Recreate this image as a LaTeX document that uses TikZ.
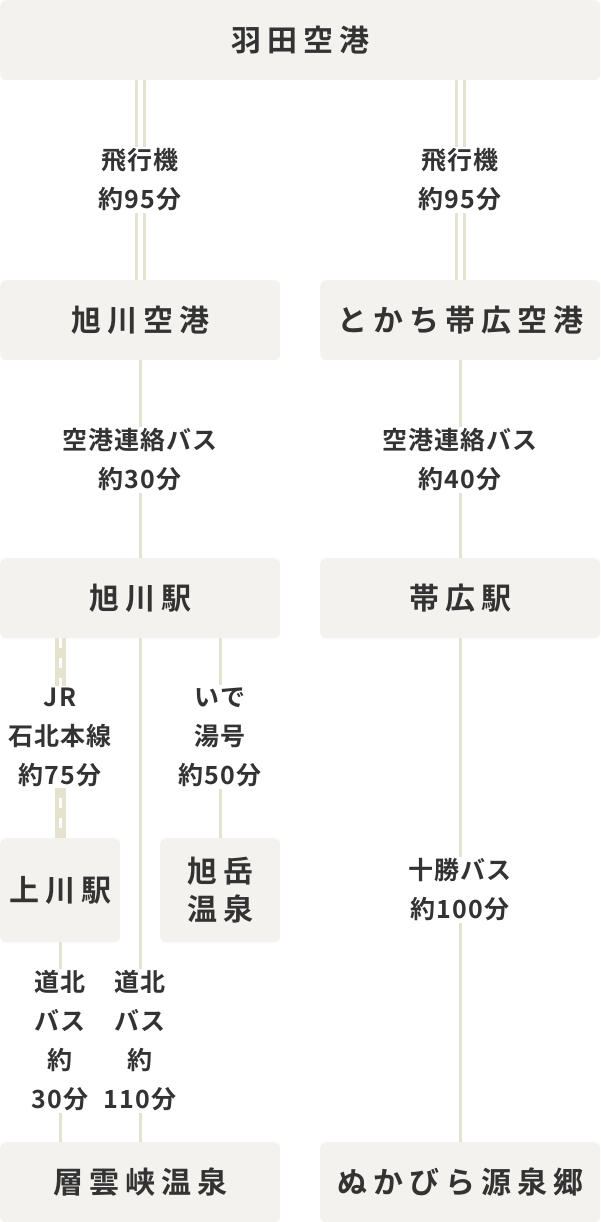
\documentclass[tikz,border=0pt]{standalone}
\usepackage{fontspec}
\setmainfont{Noto Sans CJK JP}[BoldFont={* Bold}]
\usetikzlibrary{calc}
\definecolor{boxfill}{HTML}{F3F2EE}
\definecolor{rail}{HTML}{E6E2D0}
\definecolor{ink}{HTML}{333333}
\tikzset{
	stop/.style={fill=boxfill, rounded corners=6pt, anchor=north west, text=ink,
		font=\fontsize{30}{38}\selectfont\bfseries\addfontfeature{LetterSpace=20}, align=center, inner sep=0pt},
	lbl/.style={fill=white, text=ink, font=\fontsize{25}{39}\selectfont\bfseries\addfontfeature{LetterSpace=4}, align=center, inner sep=2pt},
	bus/.style={rail, line width=3pt},
	plane/.style={rail, line width=3pt, double=white, double distance=5pt},
}
\begin{document}
\begin{tikzpicture}[x=1pt,y=-1pt]
	\useasboundingbox (0,0) rectangle (600,1222);

	% ---- stops
	\node[stop, minimum width=600pt, minimum height=80pt] (haneda) at (0,0) {羽田空港};
	\node[stop, minimum width=280pt, minimum height=80pt] (asahiKuko) at (0,280) {旭川空港};
	\node[stop, minimum width=280pt, minimum height=80pt] (tokachiKuko) at (320,280) {とかち帯広空港};
	\node[stop, minimum width=280pt, minimum height=80pt] (asahiEki) at (0,558) {旭川駅};
	\node[stop, minimum width=280pt, minimum height=80pt] (obihiroEki) at (320,558) {帯広駅};
	\node[stop, minimum width=120pt, minimum height=104pt] (kamikawa) at (0,838) {上川駅};
	\node[stop, minimum width=120pt, minimum height=104pt] (asahidake) at (160,838) {旭岳\\温泉};
	\node[stop, minimum width=280pt, minimum height=80pt] (sounkyo) at (0,1142) {層雲峡温泉};
	\node[stop, minimum width=280pt, minimum height=80pt] (nukabira) at (320,1142) {ぬかびら源泉郷};

	% ---- connectors
	\draw[plane] (haneda.south -| asahiKuko) -- (asahiKuko.north);
	\draw[plane] (haneda.south -| tokachiKuko) -- (tokachiKuko.north);
	\draw[bus] (asahiKuko) -- (asahiEki);
	\draw[bus] (tokachiKuko) -- (obihiroEki);
	\draw[rail, line width=11pt] (asahiEki.south -| kamikawa) -- (kamikawa.north);
	\draw[white, line width=3pt, dash pattern=on 10pt off 10pt] (asahiEki.south -| kamikawa) -- (kamikawa.north);
	\draw[bus] (asahiEki.south -| asahidake) -- (asahidake.north);
	\draw[bus] (asahiEki) -- (sounkyo);
	\draw[bus] (kamikawa) -- (kamikawa |- sounkyo.north);
	\draw[bus] (obihiroEki) -- (nukabira);

	% ---- labels
	\node[lbl] (l1) at (140,180) {飛行機\\約95分};
	\node[lbl] (l2) at (460,180) {飛行機\\約95分};
	\node[lbl] (l3) at (140,460) {空港連絡バス\\約30分};
	\node[lbl] (l4) at (460,460) {空港連絡バス\\約40分};
	\node[lbl] (l5) at (60,737) {JR\\石北本線\\約75分};
	\node[lbl] (l6) at (220,737) {いで\\湯号\\約50分};
	\node[lbl] (l7) at (460,890) {十勝バス\\約100分};
	\node[lbl] (l8) at (60,1041) {道北\\バス\\約\\30分};
	\node[lbl] (l9) at (140,1041) {道北\\バス\\約\\110分};

\end{tikzpicture}
\end{document}
